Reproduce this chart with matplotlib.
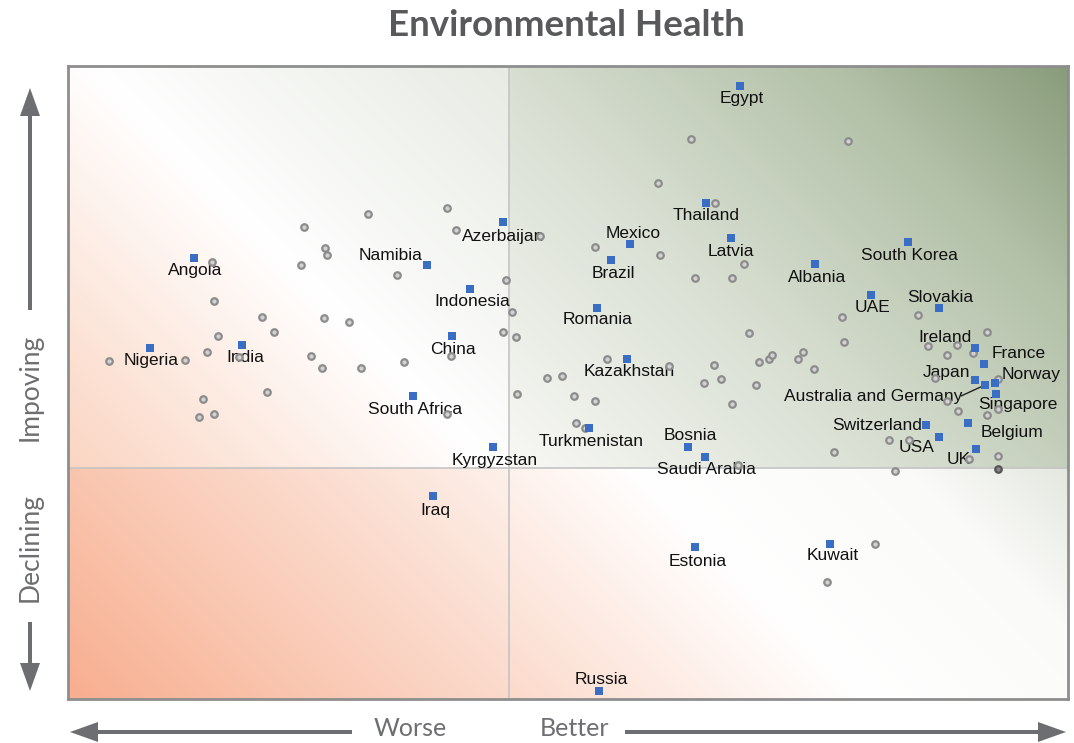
import numpy as np
import matplotlib
matplotlib.use("Agg")
import matplotlib.pyplot as plt
from matplotlib.colors import to_rgb
from matplotlib.patches import FancyArrow

# ---------------- data ----------------
countries = ["Egypt", "Thailand", "Azerbaijan", "Mexico", "Latvia", "Namibia", "Angola",
             "Brazil", "Indonesia", "Albania", "South Korea", "UAE", "Slovakia", "Romania",
             "China", "Nigeria", "India", "Kazakhstan", "Ireland", "France", "Japan", "Norway",
             "Australia and Germany", "Singapore", "Switzerland", "Belgium", "USA", "UK",
             "South Africa", "Kyrgyzstan", "Turkmenistan", "Bosnia", "Saudi Arabia", "Iraq",
             "Estonia", "Kuwait", "Russia"]
country_score = [67.2, 63.8, 43.5, 56.2, 66.3, 35.9, 12.6,
                 54.3, 40.2, 74.7, 84.0, 80.3, 87.1, 52.9,
                 38.4, 8.2, 17.4, 55.9, 90.7, 91.6, 90.7, 92.7,
                 91.7, 92.8, 85.8, 90.0, 87.1, 90.8,
                 34.5, 42.5, 52.1, 62.0, 63.7, 36.5,
                 62.7, 76.2, 53.1]
country_trend = [38.2, 26.5, 24.6, 22.4, 23.0, 20.3, 21.0,
                 20.8, 17.9, 20.4, 22.6, 17.3, 16.0, 16.0,
                 13.2, 12.0, 12.3, 10.9, 12.0, 10.4, 8.8, 8.5,
                 8.3, 7.4, 4.3, 4.5, 3.1, 1.9,
                 7.2, 2.1, 4.0, 2.1, 1.1, -2.8,
                 -7.9, -7.6, -22.3]

other_score = [37.9, 30.0, 23.6, 38.8, 25.7, 25.9, 14.4, 23.3, 32.9, 43.8, 14.6, 44.4,
               19.4, 25.6, 28.1, 20.6, 15.0, 43.5, 44.8, 13.9, 11.7, 4.1, 24.3, 25.4,
               29.3, 33.6, 38.3, 17.1, 19.9, 44.9, 13.5, 13.1, 14.6, 37.9, 47.2,
               62.3, 78.0, 59.0, 64.7, 52.7, 59.2, 67.6, 62.7, 66.4, 77.4, 85.0, 68.1,
               77.6, 91.9, 86.0, 88.9, 87.9, 90.5, 53.9, 60.1, 64.6, 69.1, 70.1, 70.4,
               73.5, 73.0, 74.6, 47.9, 49.4, 63.6, 65.3, 68.8, 86.7, 93.0, 50.6, 52.7,
               66.4, 87.9, 89.0, 93.0, 91.9, 50.8, 51.7, 82.1, 84.1, 76.6, 90.1, 93.0,
               82.7, 67.0, 80.7, 75.9]
other_trend = [26.0, 25.4, 24.1, 23.8, 22.0, 21.3, 20.6, 20.3, 19.3, 18.8, 16.7, 15.6,
               15.1, 15.0, 14.6, 13.6, 13.2, 13.6, 13.1, 11.6, 10.8, 10.7, 11.2, 10.0,
               10.0, 10.6, 11.2, 11.1, 7.6, 7.4, 6.9, 5.1, 5.4, 5.4, 23.2,
               32.9, 32.7, 28.5, 26.5, 22.1, 21.3, 20.4, 19.0, 19.0, 15.1, 15.3, 13.5,
               12.6, 13.6, 12.2, 12.3, 11.3, 11.5, 10.9, 10.2, 10.3, 10.6, 10.9, 11.3,
               11.6, 10.9, 9.9, 9.0, 9.2, 8.5, 8.9, 8.3, 9.0, 8.9, 7.2, 6.7,
               6.4, 6.7, 5.7, 5.9, 5.3, 4.5, 4.0, 2.8, 2.8, 1.6, 0.9, 1.2,
               -0.3, 0.3, -7.6, -11.4]
dark_score = [93.0]
dark_trend = [-0.1]

x_min, x_max = 0.0, 100.0
y_min, y_max = -23.1, 40.2
x_split, y_split = 44.1, 0.0

# label offsets in pixels (dx right, dy down) relative to the marker
label_offsets = {
    "Egypt": (2, 13), "Thailand": (0, 13), "Azerbaijan": (0, 14), "Mexico": (3, -11),
    "Latvia": (0, 13), "Namibia": (-36, -9), "Angola": (1, 13), "Brazil": (2, 13),
    "Indonesia": (2, 13), "Albania": (2, 13), "South Korea": (1, 13), "UAE": (1, 13),
    "Slovakia": (1, -11), "Romania": (1, 12), "China": (1, 14), "Nigeria": (1, 13),
    "India": (3, 13), "Kazakhstan": (2, 13), "Ireland": (-30, -10), "France": (35, -10),
    "Japan": (-28, -8), "Norway": (36, -9), "Australia and Germany": (-112, 12),
    "Singapore": (22, 11), "Switzerland": (-49, 0), "Belgium": (44, 9), "USA": (-22, 11),
    "UK": (-17, 11), "South Africa": (2, 13), "Kyrgyzstan": (2, 14), "Turkmenistan": (2, 13),
    "Bosnia": (2, -12), "Saudi Arabia": (1, 13), "Iraq": (2, 15), "Estonia": (3, 14),
    "Kuwait": (3, 12), "Russia": (2, -11),
}

# ---------------- figure ----------------
W, H = 1074, 743
fig = plt.figure(figsize=(W / 100, H / 100), dpi=100)
fig.patch.set_facecolor("white")
ax = fig.add_axes([68 / W, 44 / H, 1000 / W, 633 / H])

# gradient background
nx, ny = 1000, 633
xs = np.linspace(x_min, x_max, nx)
ys = np.linspace(y_max, y_min, ny)
X, Y = np.meshgrid(xs, ys)
img = np.ones((ny, nx, 3))


def ramp(t, stops):
    pos = [s[0] for s in stops]
    cols = np.array([to_rgb(s[1]) for s in stops])
    out = np.empty(t.shape + (3,))
    for c in range(3):
        out[..., c] = np.interp(t, pos, cols[:, c])
    return out


quads = [
    ((x_min, x_split, y_split, y_max), [(0, "#fbd5c2"), (0.5, "#ffffff"), (1, "#e7ebe3")]),
    ((x_min, x_split, y_min, y_split), [(0, "#f8ae8f"), (1, "#fdf1eb")]),
    ((x_split, x_max, y_split, y_max), [(0, "#f8f8f5"), (0.4, "#d9e0d3"), (0.75, "#b3c1a8"), (1, "#889c7a")]),
    ((x_split, x_max, y_min, y_split), [(0, "#fcdacb"), (0.45, "#ffffff"), (0.8, "#fafaf8"), (1, "#e3e8df")]),
]
for (xa, xb, ya, yb), stops in quads:
    m = (X >= xa) & (X <= xb) & (Y >= ya) & (Y <= yb)
    t = ((X - xa) + (Y - ya)) / ((xb - xa) + (yb - ya))
    img[m] = ramp(t[m], stops)

ax.imshow(img, extent=[x_min, x_max, y_min, y_max], aspect="auto", origin="upper", zorder=0,
          interpolation="bilinear")
ax.axvline(x_split, color="#c4c4c4", lw=1.2, zorder=1)
ax.axhline(y_split, color="#c4c4c4", lw=1.2, zorder=1)

ax.set_xlim(x_min, x_max)
ax.set_ylim(y_min, y_max)
ax.set_xticks([])
ax.set_yticks([])
for s in ax.spines.values():
    s.set_color("#8e8e8e")
    s.set_linewidth(2)

label_font = ["Liberation Sans", "DejaVu Sans"]
for name, xv, yv in zip(countries, country_score, country_trend):
    dx, dy = label_offsets[name]
    ax.annotate(name, (xv, yv), xytext=(dx, -dy), textcoords="offset pixels",
                ha="center", va="center", fontsize=12.5, family=label_font,
                color="#111111", zorder=3, annotation_clip=False)
    if name == "Australia and Germany":
        ax.annotate("", (xv, yv), xytext=(-24, -11), textcoords="offset pixels",
                    arrowprops=dict(arrowstyle="-", color="#222222", lw=1.0,
                                    shrinkA=0, shrinkB=0), zorder=3)

ax.scatter(other_score, other_trend, s=22, marker="o", facecolor="#d2d2d2",
           edgecolor="#8c8c8c", linewidths=1.6, zorder=4)
ax.scatter(dark_score, dark_trend, s=22, marker="o", facecolor="#888888",
           edgecolor="#555555", linewidths=1.6, zorder=4)
ax.scatter(country_score, country_trend, s=38, marker="s", color="#3a6ec4",
           linewidths=0, zorder=5)

# ---------------- decorations (figure pixel overlay) ----------------
ov = fig.add_axes([0, 0, 1, 1], facecolor="none")
ov.set_xlim(0, W)
ov.set_ylim(H, 0)
ov.axis("off")
gray = "#6d6e71"
aw = dict(width=4, head_width=20, head_length=28, length_includes_head=True,
          color=gray, linewidth=0)
ov.add_patch(FancyArrow(352, 732, 70 - 352, 0, **aw))
ov.add_patch(FancyArrow(625, 732, 1066 - 625, 0, **aw))
ov.add_patch(FancyArrow(30, 310, 0, 88 - 310, **aw))
ov.add_patch(FancyArrow(30, 622, 0, 691 - 622, **aw))

deco_font = ["Lato", "DejaVu Sans"]
ov.text(410, 729, "Worse", ha="center", va="center", fontsize=18, color=gray, family=deco_font)
ov.text(574, 729, "Better", ha="center", va="center", fontsize=18, color=gray, family=deco_font)
ov.text(30, 387, "Impoving", ha="center", va="center", rotation=90, fontsize=19, color=gray,
        family=deco_font)
ov.text(30, 548, "Declining", ha="center", va="center", rotation=90, fontsize=19, color=gray,
        family=deco_font)
ov.text(566, 26, "Environmental Health", ha="center", va="center", fontsize=26.5,
        fontweight="bold", color="#58595b", family=deco_font)

fig.savefig("out.png", dpi=100, facecolor="white")
